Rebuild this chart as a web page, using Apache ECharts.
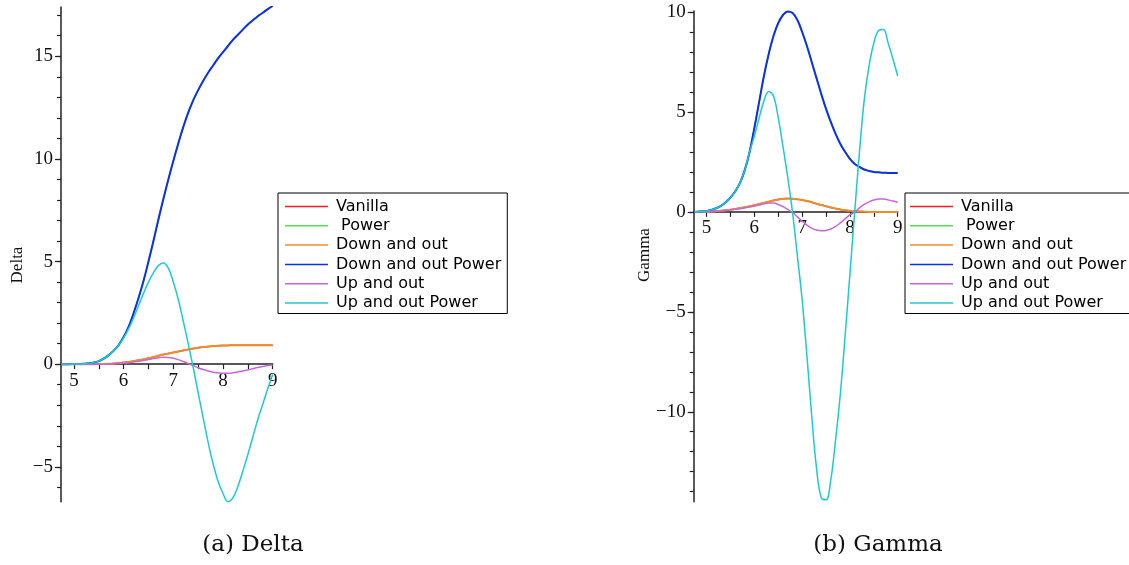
<!DOCTYPE html>
<html>
<head>
<meta charset="utf-8">
<script src="https://cdn.jsdelivr.net/npm/echarts@6/dist/echarts.min.js"></script>
<style>
html,body{margin:0;padding:0;background:#fff;}
#c{width:1129px;height:565px;}
</style>
</head>
<body>
<div id="c"></div>
<script>
const seriesNames = ['Vanilla', ' Power', 'Down and out', 'Down and out Power', 'Up and out', 'Up and out Power'];
const xs = [4.75,4.8,4.9,5.0,5.1,5.2,5.3,5.4,5.5,5.6,5.7,5.8,5.9,6.0,6.1,6.2,6.3,6.4,6.5,6.6,6.7,6.8,6.9,7.0,7.1,7.2,7.3,7.4,7.5,7.6,7.7,7.8,7.9,8.0,8.1,8.2,8.3,8.4,8.5,8.6,8.7,8.8,8.9,9.0];
const xTickValues = [5,5.5,6,6.5,7,7.5,8,8.5,9];
const xLabelValues = [5,6,7,8,9];
const deltaMajorTicks = [-5,0,5,10,15];
const deltaMinorTicks = [-6,-5,-4,-3,-2,-1,0,1,2,3,4,5,6,7,8,9,10,11,12,13,14,15,16,17];
const gammaMajorTicks = [-10,-5,0,5,10];
const gammaMinorTicks = [-14,-13,-12,-11,-10,-9,-8,-7,-6,-5,-4,-3,-2,-1,0,1,2,3,4,5,6,7,8,9,10];

// Delta
const deltaVanilla = [0,0,0,0,0,0,0,0,0.005,0.01,0.02,0.035,0.055,0.08,0.11,0.15,0.19,0.24,0.29,0.35,0.41,0.47,0.52,0.57,0.62,0.67,0.72,0.76,0.8,0.83,0.86,0.88,0.9,0.91,0.915,0.92,0.92,0.92,0.92,0.92,0.92,0.92,0.92,0.92];
const deltaPower = [0,0,0,0.005,0.01,0.02,0.04,0.08,0.15,0.27,0.44,0.66,0.93,1.32,1.82,2.48,3.22,4.05,5.0,6.0,7.05,8.05,9.0,9.9,10.75,11.55,12.25,12.85,13.35,13.8,14.2,14.55,14.9,15.2,15.5,15.8,16.05,16.3,16.55,16.75,16.95,17.12,17.3,17.45];
const deltaDownOut = [0,0,0,0,0,0,0,0,0.005,0.01,0.02,0.035,0.055,0.08,0.11,0.15,0.19,0.24,0.29,0.35,0.41,0.47,0.52,0.57,0.62,0.67,0.72,0.76,0.8,0.83,0.86,0.88,0.9,0.91,0.915,0.92,0.92,0.92,0.92,0.92,0.92,0.92,0.92,0.92];
const deltaDownOutPower = [0,0,0,0.005,0.01,0.02,0.04,0.08,0.15,0.27,0.44,0.66,0.93,1.32,1.82,2.48,3.22,4.05,5.0,6.0,7.05,8.05,9.0,9.9,10.75,11.55,12.25,12.85,13.35,13.8,14.2,14.55,14.9,15.2,15.5,15.8,16.05,16.3,16.55,16.75,16.95,17.12,17.3,17.45];
const deltaUpOut = [0,0,0,0,0,0,0,0,0,0,0.01,0.02,0.035,0.05,0.07,0.1,0.14,0.18,0.23,0.27,0.31,0.34,0.33,0.29,0.22,0.13,0.03,-0.07,-0.17,-0.26,-0.33,-0.39,-0.42,-0.44,-0.44,-0.42,-0.38,-0.33,-0.28,-0.22,-0.16,-0.11,-0.07,-0.04];
const deltaUpOutPower = [0,0,0,0.005,0.01,0.02,0.04,0.08,0.15,0.27,0.44,0.66,0.92,1.28,1.72,2.25,2.85,3.45,4.0,4.45,4.8,4.93,4.68,4.0,3.15,2.1,1.0,-0.15,-1.4,-2.6,-3.8,-4.85,-5.7,-6.3,-6.7,-6.5,-5.95,-5.2,-4.4,-3.55,-2.7,-1.95,-1.2,-0.5];

// Gamma
const gammaVanilla = [0,0,0.005,0.01,0.02,0.04,0.06,0.08,0.11,0.15,0.19,0.23,0.28,0.33,0.39,0.45,0.51,0.57,0.62,0.66,0.67,0.66,0.63,0.59,0.54,0.48,0.41,0.34,0.28,0.22,0.17,0.12,0.08,0.05,0.03,0.02,0.01,0,0,0,0,0,0,0];
const gammaPower = [0,0.01,0.02,0.05,0.1,0.18,0.3,0.48,0.72,1.03,1.45,2.1,3.0,4.2,5.5,6.8,7.9,8.8,9.45,9.85,10.03,9.95,9.6,9.0,8.3,7.5,6.7,5.9,5.15,4.5,3.9,3.4,3.0,2.65,2.4,2.25,2.12,2.05,2.0,1.98,1.96,1.95,1.94,1.94];
const gammaDownOut = [0,0,0.005,0.01,0.02,0.04,0.06,0.08,0.11,0.15,0.19,0.23,0.28,0.33,0.39,0.45,0.51,0.57,0.62,0.66,0.67,0.66,0.63,0.59,0.54,0.48,0.41,0.34,0.28,0.22,0.17,0.12,0.08,0.05,0.03,0.02,0.01,0,0,0,0,0,0,0];
const gammaDownOutPower = [0,0.01,0.02,0.05,0.1,0.18,0.3,0.48,0.72,1.03,1.45,2.1,3.0,4.2,5.5,6.8,7.9,8.8,9.45,9.85,10.03,9.95,9.6,9.0,8.3,7.5,6.7,5.9,5.15,4.5,3.9,3.4,3.0,2.65,2.4,2.25,2.12,2.05,2.0,1.98,1.96,1.95,1.94,1.94];
const gammaUpOut = [0,0,0.005,0.01,0.02,0.04,0.06,0.08,0.1,0.13,0.16,0.2,0.24,0.29,0.34,0.4,0.44,0.44,0.37,0.26,0.12,-0.04,-0.25,-0.47,-0.66,-0.81,-0.91,-0.95,-0.93,-0.86,-0.73,-0.55,-0.35,-0.15,-0.01,0.2,0.37,0.5,0.59,0.64,0.64,0.6,0.54,0.47];
const gammaUpOutPower = [0,0.01,0.02,0.05,0.1,0.18,0.3,0.48,0.72,1.03,1.45,2.1,3.0,3.8,4.7,5.55,6.02,5.8,4.7,3.25,1.7,-0.05,-2.2,-4.4,-7.2,-10.2,-12.8,-14.3,-14.4,-13.4,-11.4,-9.1,-6.2,-3.1,0.0,3.0,5.6,7.3,8.45,9.07,9.13,8.45,7.65,6.8];

const deltaSeries = [deltaVanilla, deltaPower, deltaDownOut, deltaDownOutPower, deltaUpOut, deltaUpOutPower];
const gammaSeries = [gammaVanilla, gammaPower, gammaDownOut, gammaDownOutPower, gammaUpOut, gammaUpOutPower];

const colors = ['#ff1a1a', '#55dd55', '#ee8c2c', '#1030e6', '#c468d8', '#1ccad2'];
const widths = [1.5, 1.5, 2, 2, 1.5, 1.5];

const chart = echarts.init(document.getElementById('c'), null, {renderer: 'canvas'});

const serifFont = 'Liberation Serif';
const axisColor = '#222';

const grids = [
  {left: 61, top: 7, width: 211.7, height: 494.7},
  {left: 693.7, top: 11, width: 204, height: 490.7}
];
const yRanges = [[-6.7, 17.4], [-14.5, 10.05]];
const xMins = [4.74, 4.73];

function fmtMinus(v) { return v < 0 ? '\u2212' + Math.abs(v) : String(v); }

function makeX(gi) {
  const r = yRanges[gi];
  const zeroOffset = -(0 - r[0]) / (r[1] - r[0]) * grids[gi].height;
  return {
    type: 'value', gridIndex: gi, min: xMins[gi], max: 9, position: 'bottom', offset: zeroOffset,
    axisLine: {show: true, onZero: false, lineStyle: {color: axisColor, width: 1.5}},
    axisTick: {show: true, customValues: xTickValues, length: 5, lineStyle: {color: axisColor, width: 1.2}},
    axisLabel: {show: true, customValues: xLabelValues, fontFamily: serifFont, fontSize: 19, color: '#111', margin: 7},
    splitLine: {show: false}
  };
}
function makeYMajor(gi, ticks) {
  return {
    type: 'value', gridIndex: gi, min: yRanges[gi][0], max: yRanges[gi][1], position: 'left',
    axisLine: {show: true, onZero: false, lineStyle: {color: axisColor, width: 1.5}},
    axisTick: {show: true, customValues: ticks, length: 6, lineStyle: {color: axisColor, width: 1.2}},
    axisLabel: {show: true, customValues: ticks, fontFamily: serifFont, fontSize: 19, color: '#111', margin: 8, formatter: fmtMinus},
    splitLine: {show: false}
  };
}
function makeYMinor(gi, ticks) {
  return {
    type: 'value', gridIndex: gi, min: yRanges[gi][0], max: yRanges[gi][1], position: 'left',
    axisLine: {show: false, onZero: false},
    axisTick: {show: true, customValues: ticks, length: 4, lineStyle: {color: axisColor, width: 1.2}},
    axisLabel: {show: false},
    splitLine: {show: false}
  };
}

const series = [];
[deltaSeries, gammaSeries].forEach(function (set, gi) {
  set.forEach(function (vals, i) {
    series.push({
      type: 'line', name: seriesNames[i],
      xAxisIndex: gi, yAxisIndex: gi * 2,
      data: xs.map(function (x, k) { return [x, vals[k]]; }),
      symbol: 'none', smooth: 0.4,
      lineStyle: {color: colors[i], width: widths[i]},
      itemStyle: {color: colors[i]},
      z: 2 + i,
      animation: false
    });
  });
});

function makeLegend(left, padLeft) {
  return {
    left: left, top: 193, orient: 'vertical',
    data: seriesNames.map(function (n) { return {name: n, icon: 'rect'}; }),
    itemWidth: 43, itemHeight: 1.5, itemGap: 0.3,
    padding: [4, 6, 1, padLeft],
    borderColor: '#000', borderWidth: 1, backgroundColor: '#fff',
    selectedMode: false,
    textStyle: {fontFamily: 'DejaVu Sans', fontSize: 16, color: '#000', lineHeight: 19, padding: [0, 0, 0, 3]}
  };
}

chart.setOption({
  animation: false,
  backgroundColor: '#fff',
  grid: grids.map(function (g) { return Object.assign({containLabel: false}, g); }),
  xAxis: [makeX(0), makeX(1)],
  yAxis: [
    makeYMajor(0, deltaMajorTicks),
    makeYMinor(0, deltaMinorTicks),
    makeYMajor(1, gammaMajorTicks),
    makeYMinor(1, gammaMinorTicks)
  ],
  legend: [makeLegend(278, 7), makeLegend(905, 5)],
  series: series,
  graphic: [
    {type: 'text', x: 18, y: 265, rotation: Math.PI / 2, style: {text: 'Delta', font: '17px "Liberation Serif"', fill: '#111', align: 'center', verticalAlign: 'middle'}},
    {type: 'text', x: 645, y: 255, rotation: Math.PI / 2, style: {text: 'Gamma', font: '17px "Liberation Serif"', fill: '#111', align: 'center', verticalAlign: 'middle'}},
    {type: 'text', x: 253, y: 545, style: {text: '(a) Delta', font: '23px "DejaVu Serif"', fill: '#111', align: 'center', verticalAlign: 'middle'}},
    {type: 'text', x: 878, y: 545, style: {text: '(b) Gamma', font: '23px "DejaVu Serif"', fill: '#111', align: 'center', verticalAlign: 'middle'}}
  ]
});
</script>
</body>
</html>
